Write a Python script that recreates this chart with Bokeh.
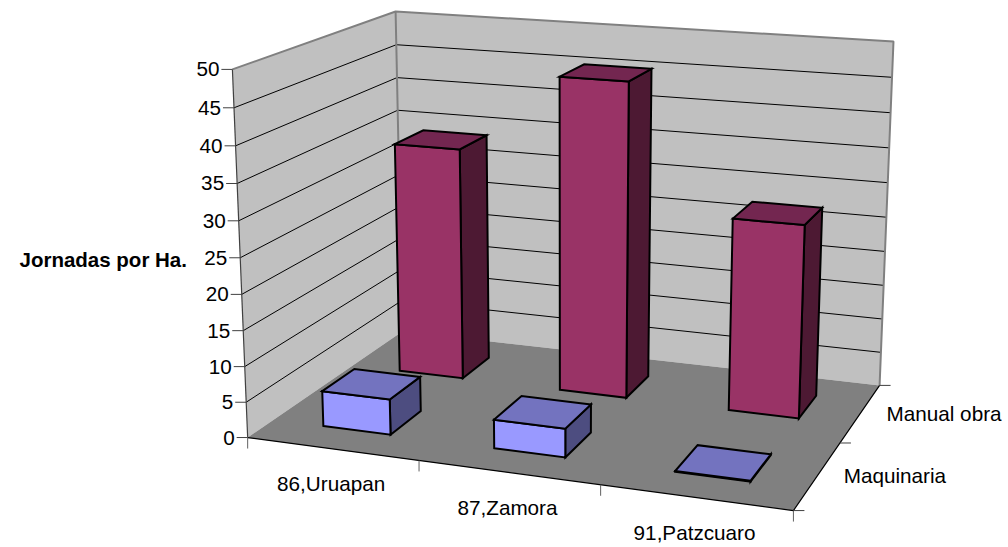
import numpy as np
from bokeh.plotting import figure
from bokeh.models import Range1d
from bokeh.core.properties import value
from bokeh.embed import file_html
from bokeh.resources import INLINE

categories = ["86,Uruapan", "87,Zamora", "91,Patzcuaro"]
series_names = ["Maquinaria", "Manual obra"]
maquinaria = [5, 4, 0.1]
manual_obra = [34, 45.4, 27.5]
z_ticks = [0, 5, 10, 15, 20, 25, 30, 35, 40, 45, 50]
z_max = 50

FONT = value("Liberation Sans")
TS = "20.7px"

# Camera fitted to the chart box corners (x, depth, value fraction) -> picture pixels
box = [((0, 0, 0), (247, 437)), ((0, 0, 1), (232, 69)), ((0, 1, 1), (395, 11)),
       ((1, 1, 1), (893, 41)), ((1, 1, 0), (879, 385)), ((1, 0, 0), (793, 510)),
       ((0, 1, 0), (402, 331))]
A, b = [], []
for (X, Y, Z), (u, v) in box:
    A.append([X, Y, Z, 1, 0, 0, 0, 0, -u * X, -u * Y, -u * Z]); b.append(u)
    A.append([0, 0, 0, 0, X, Y, Z, 1, -v * X, -v * Y, -v * Z]); b.append(v)
m = np.linalg.lstsq(np.array(A, float), np.array(b, float), rcond=None)[0]
M = np.append(m, 1.0).reshape(3, 4)

def proj(x, y, z):
    w = M @ np.array([x, y, z / z_max, 1.0])
    return w[0] / w[2], w[1] / w[2]

def poly(pts):
    q = [proj(*t) for t in pts]
    return [a for a, _ in q], [c for _, c in q]

p = figure(width=1008, height=547, output_backend="svg", toolbar_location=None,
           x_range=Range1d(0, 1008), y_range=Range1d(547, 0),
           x_axis_type=None, y_axis_type=None, min_border=0, outline_line_color=None)
p.grid.visible = False

WALL, FLOOR, EDGE = "#C0C0C0", "#808080", "#808080"

# walls and floor
xs, ys = poly([(0, 0, 0), (0, 1, 0), (0, 1, z_max), (0, 0, z_max)])
p.patch(xs, ys, fill_color=WALL, line_color=None)
xs, ys = poly([(0, 1, 0), (1, 1, 0), (1, 1, z_max), (0, 1, z_max)])
p.patch(xs, ys, fill_color=WALL, line_color=None)
xs, ys = poly([(0, 0, 0), (1, 0, 0), (1, 1, 0), (0, 1, 0)])
p.patch(xs, ys, fill_color=FLOOR, line_color=None)

# gridlines on walls
for t in z_ticks[1:-1]:
    xs, ys = poly([(0, 0, t), (0, 1, t), (1, 1, t)])
    p.line(xs, ys, line_color="#000000", line_width=1)
# wall edges
xs, ys = poly([(0, 0, z_max), (0, 1, z_max), (1, 1, z_max), (1, 1, 0)])
p.line(xs, ys, line_color=EDGE, line_width=2)
xs, ys = poly([(0, 1, 0), (0, 1, z_max)])
p.line(xs, ys, line_color=EDGE, line_width=2)
# axis lines
xs, ys = poly([(0, 0, z_max), (0, 0, 0)])
p.line(xs, ys, line_color="#404040", line_width=1.2)
xs, ys = poly([(0, 0, 0), (1, 0, 0), (1, 1, 0)])
p.line(xs, ys, line_color="#000000", line_width=1.2)

# value axis ticks and labels
zx, zy = [], []
for t in z_ticks:
    a, c = proj(0, 0, t)
    p.line([a - 11, a], [c, c], line_color="#404040", line_width=1)
    zx.append(a - 13); zy.append(c)
p.text(zx, zy, text=[str(t) for t in z_ticks], text_font=FONT, text_font_size=TS,
       text_color="#000000", text_align="right", text_baseline="middle")

# category ticks and labels
for i in range(len(categories) + 1):
    a, c = proj(i / len(categories), 0, 0)
    p.line([a, a], [c, c + 11], line_color="#606060", line_width=1)
lx, ly = [], []
for i in range(len(categories)):
    a, c = proj((i + 0.5) / len(categories), 0, 0)
    lx.append(a - 1); ly.append(c + 35)
p.text(lx, ly, text=categories, text_font=FONT, text_font_size=TS, text_color="#000000",
       text_align="center", text_baseline="middle")

# depth ticks and labels
dx, dy = [], []
for j in range(len(series_names) + 1):
    a, c = proj(1, j / len(series_names), 0)
    p.line([a, a + 11], [c, c], line_color="#404040", line_width=1)
for j in range(len(series_names)):
    a, c = proj(1, (j + 0.5) / len(series_names), 0)
    dx.append(a + 26); dy.append(c)
p.text(dx, dy, text=series_names, text_font=FONT, text_font_size=TS, text_color="#000000",
       text_align="left", text_baseline="middle")

p.text([19], [259], text=["Jornadas por Ha."], text_font=FONT, text_font_size="20.5px",
       text_font_style="bold", text_color="#000000", text_align="left", text_baseline="middle")

# bars
BW = 0.4 / len(categories)
BD = 0.4 / len(series_names)
styles = {0: ("#9999FF", "#7373BF", "#4D4D80"), 1: ("#993366", "#732650", "#4D1933")}
rows = [maquinaria, manual_obra]
for j in [1, 0]:
    for i in range(len(categories)):
        h = rows[j][i]
        x0 = (i + 0.5) / len(categories) - BW / 2
        x1 = x0 + BW
        y0 = (j + 0.5) / len(series_names) - BD / 2
        y1 = y0 + BD
        front, top, side = styles[j]
        faces = [([(x1, y0, 0), (x1, y1, 0), (x1, y1, h), (x1, y0, h)], side),
                 ([(x0, y0, 0), (x1, y0, 0), (x1, y0, h), (x0, y0, h)], front),
                 ([(x0, y0, h), (x1, y0, h), (x1, y1, h), (x0, y1, h)], top)]
        for pts, col in faces:
            xs, ys = poly(pts)
            p.patch(xs, ys, fill_color=col, line_color="#000000", line_width=2, line_join="miter")

open("out.html", "w").write(file_html(p, INLINE))
